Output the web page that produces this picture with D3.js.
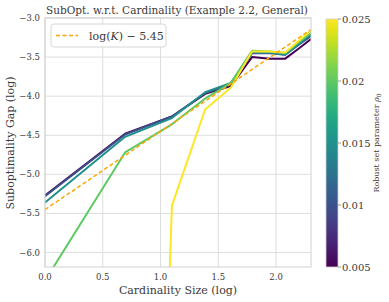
<!DOCTYPE html>
<html><head><meta charset="utf-8">
<script src="https://cdn.jsdelivr.net/npm/d3@7"></script>
<style>body{margin:0;background:#fff}svg{display:block}text{font-family:"DejaVu Serif",serif;fill:#3a3a3a}</style>
</head><body><svg id="c" width="389" height="302"></svg>
<script>
const cardinality = [1,2,3,4,5,6,7,8,9,10];
const rhoValues = [0.005, 0.01, 0.015, 0.02, 0.025];
const gap_0005 = [-5.27,-4.48,-4.26,-3.97,-3.87,-3.50,-3.52,-3.52,-3.39,-3.27];
const gap_0010 = [-5.28,-4.49,-4.26,-3.96,-3.85,-3.45,-3.45,-3.47,-3.34,-3.23];
const gap_0015 = [-5.36,-4.52,-4.28,-3.95,-3.83,-3.44,-3.44,-3.47,-3.33,-3.21];
const gap_0020 = [-6.36,-4.72,-4.36,-4.03,-3.83,-3.42,-3.43,-3.45,-3.31,-3.19];
const gap_0025 = [-25.0,-23.0,-5.40,-4.17,-3.89,-3.43,-3.43,-3.44,-3.29,-3.16];
const series = [gap_0005, gap_0010, gap_0015, gap_0020, gap_0025];
const refOffset = -5.45;
const xTicks = [0.0, 0.5, 1.0, 1.5, 2.0];
const yTicks = [-3.0, -3.5, -4.0, -4.5, -5.0, -5.5, -6.0];
const cbTicks = [0.005, 0.01, 0.015, 0.02, 0.025];

const svg = d3.select("#c");
const L = 45, R = 311, T = 18, B = 267;
const x = d3.scaleLinear().domain([0, Math.log(10)]).range([L, R]);
const y = d3.scaleLinear().domain([-6.185, -3.0]).range([B, T]);
const color = d3.scaleSequential(d3.interpolateViridis).domain([0.005, 0.025]);
const fmt = v => (v < 0 ? "\u2212" : "") + Math.abs(v).toFixed(1);

// grid
const g = svg.append("g");
g.selectAll(".gx").data(xTicks).enter().append("line")
  .attr("x1", d => x(d)).attr("x2", d => x(d)).attr("y1", T).attr("y2", B)
  .attr("stroke", "#dedede").attr("stroke-width", 1);
g.selectAll(".gy").data(yTicks).enter().append("line")
  .attr("x1", L).attr("x2", R).attr("y1", d => y(d)).attr("y2", d => y(d))
  .attr("stroke", "#dedede").attr("stroke-width", 1);

svg.append("clipPath").attr("id", "clip").append("rect")
  .attr("x", L).attr("y", T).attr("width", R - L).attr("height", B - T);

const line = d3.line().x((d, i) => x(Math.log(cardinality[i]))).y(d => y(d));
const lines = svg.append("g").attr("clip-path", "url(#clip)");
series.forEach((s, k) => {
  lines.append("path").attr("d", line(s)).attr("fill", "none")
    .attr("stroke", color(rhoValues[k])).attr("stroke-width", 2)
    .attr("stroke-linejoin", "round");
});
const refVals = cardinality.map(k => Math.log(k) + refOffset);
lines.append("path").attr("d", line(refVals)).attr("fill", "none")
  .attr("stroke", "#ffa500").attr("stroke-width", 1.5).attr("stroke-dasharray", "4,2.5");

// frame
svg.append("rect").attr("x", L).attr("y", T).attr("width", R - L).attr("height", B - T)
  .attr("fill", "none").attr("stroke", "#d0d0d0").attr("stroke-width", 1);

// tick labels
svg.selectAll(".xt").data(xTicks).enter().append("text")
  .attr("x", d => x(d)).attr("y", 280).attr("text-anchor", "middle")
  .attr("font-size", 8.5).text(d => d.toFixed(1));
svg.selectAll(".yt").data(yTicks).enter().append("text")
  .attr("x", 40).attr("y", d => y(d) + 3).attr("text-anchor", "end")
  .attr("font-size", 8.5).text(fmt);

svg.append("text").attr("x", 178).attr("y", 294).attr("text-anchor", "middle")
  .attr("font-size", 11).text("Cardinality Size (log)");
svg.append("text").attr("transform", "translate(14,143) rotate(-90)").attr("text-anchor", "middle")
  .attr("font-size", 11).text("Suboptimality Gap (log)");
svg.append("text").attr("x", 177).attr("y", 14).attr("text-anchor", "middle")
  .attr("font-size", 10.5).text("SubOpt. w.r.t. Cardinality (Example 2.2, General)");

// legend
svg.append("rect").attr("x", 51).attr("y", 24).attr("width", 115).attr("height", 23)
  .attr("rx", 3).attr("fill", "#fff").attr("fill-opacity", 0.85).attr("stroke", "#d6d6d6");
svg.append("line").attr("x1", 56).attr("x2", 78).attr("y1", 35.5).attr("y2", 35.5)
  .attr("stroke", "#ffa500").attr("stroke-width", 1.5).attr("stroke-dasharray", "4,2.5");
const lt = svg.append("text").attr("x", 89).attr("y", 39.5).attr("font-size", 11);
lt.append("tspan").text("log(");
lt.append("tspan").attr("font-style", "italic").text("K");
lt.append("tspan").text(") \u2212 5.45");

// colorbar
const cbL = 326, cbW = 12, cbT = 19, cbB = 267;
const grad = svg.append("defs").append("linearGradient").attr("id", "vir")
  .attr("x1", 0).attr("y1", 1).attr("x2", 0).attr("y2", 0);
d3.range(0, 1.0001, 0.05).forEach(t => grad.append("stop")
  .attr("offset", t).attr("stop-color", d3.interpolateViridis(t)));
svg.append("rect").attr("x", cbL).attr("y", cbT).attr("width", cbW).attr("height", cbB - cbT)
  .attr("fill", "url(#vir)").attr("stroke", "#d0d0d0").attr("stroke-width", 0.8);
const cy = d3.scaleLinear().domain([0.005, 0.025]).range([cbB, cbT]);
svg.selectAll(".cbt").data(cbTicks).enter().append("line")
  .attr("x1", cbL + cbW).attr("x2", cbL + cbW + 3).attr("y1", d => cy(d)).attr("y2", d => cy(d))
  .attr("stroke", "#999");
svg.selectAll(".cbl").data(cbTicks).enter().append("text")
  .attr("x", 342).attr("y", d => cy(d) + 4).attr("font-size", 10)
  .text(d => String(d));
const cl = svg.append("text").attr("transform", "translate(379,143) rotate(-90)")
  .attr("text-anchor", "middle").attr("font-size", 8);
cl.append("tspan").text("Robust set parameter ");
cl.append("tspan").attr("font-style", "italic").text("\u03c1");
cl.append("tspan").attr("font-size", 6).attr("dy", 2).text("0");
</script></body></html>
